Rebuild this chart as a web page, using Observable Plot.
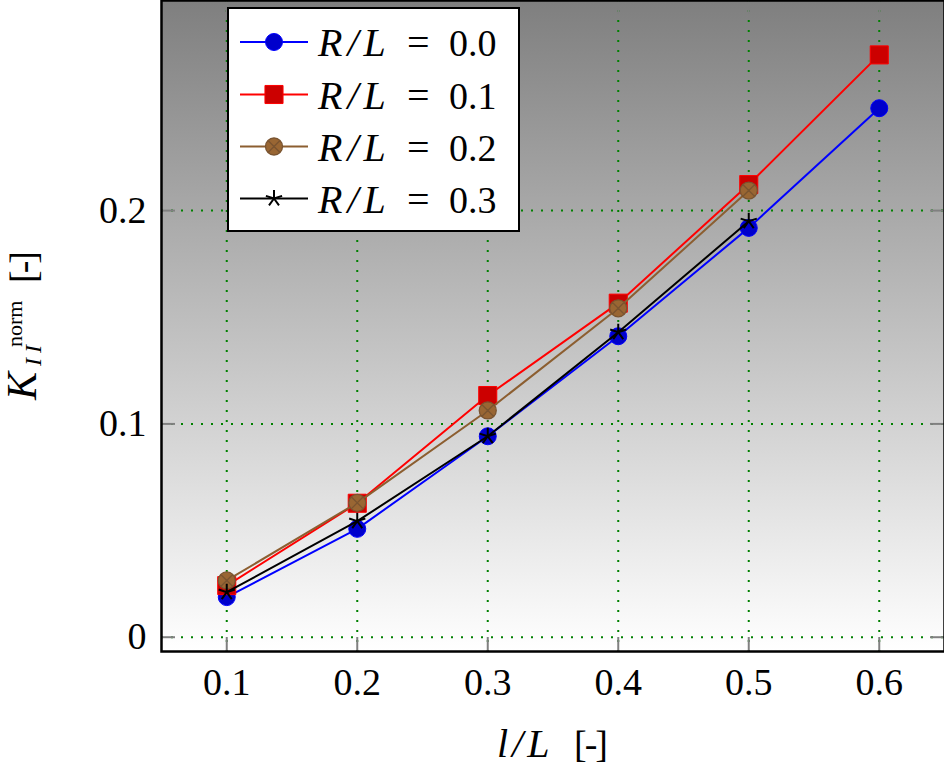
<!DOCTYPE html>
<html>
<head>
<meta charset="utf-8">
<script src="https://cdn.jsdelivr.net/npm/d3@7"></script>
<script src="https://cdn.jsdelivr.net/npm/@observablehq/plot@0.6"></script>
<style>
  html, body { margin: 0; padding: 0; background: #fff; }
  #wrap { position: relative; width: 944px; height: 766px; }
  #legend { position: absolute; left: 227px; top: 7px; }
</style>
</head>
<body>
<div id="wrap"></div>
<script>
// ---- data ----
const xValues = [0.1, 0.2, 0.3, 0.4, 0.5, 0.6];
const rl00 = [0.0188, 0.0508, 0.0942, 0.1411, 0.1919, 0.2480];
const rl01 = [0.0242, 0.0628, 0.1133, 0.1566, 0.2122, 0.2730];
const rl02 = [0.0266, 0.0630, 0.1063, 0.1542, 0.2094];
const rl03 = [0.0211, 0.0544, 0.0942, 0.1430, 0.1950];
const seriesNames = ["R/L = 0.0", "R/L = 0.1", "R/L = 0.2", "R/L = 0.3"];
const xTicks = [0.1, 0.2, 0.3, 0.4, 0.5, 0.6];
const yTicks = [0, 0.1, 0.2];
const yTickLabels = ["0", "0.1", "0.2"];

const FONT = "'Liberation Serif', 'DejaVu Serif', serif";

// custom symbols
const otimes = {
  draw(ctx, size) {
    const r = Math.sqrt(size / Math.PI);
    ctx.moveTo(r, 0);
    ctx.arc(0, 0, r, 0, 2 * Math.PI);
    const d = r * Math.SQRT1_2;
    ctx.moveTo(-d, -d); ctx.lineTo(d, d);
    ctx.moveTo(-d, d); ctx.lineTo(d, -d);
  }
};
const star5 = {
  draw(ctx, size) {
    const r = Math.sqrt(size / Math.PI);
    for (let i = 0; i < 5; i++) {
      const a = (-90 + 72 * i) * Math.PI / 180;
      ctx.moveTo(0, 0);
      ctx.lineTo(r * Math.cos(a), r * Math.sin(a));
    }
  }
};

const styles = [
  {line: "#0000ff", symbol: "circle", r: 8.5, fill: "#0000cc", stroke: "#0000ff", sw: 1},
  {line: "#ff0000", symbol: "square", r: 10.2, fill: "#cc0000", stroke: "#ff0000", sw: 1},
  {line: "#8c5e30", symbol: otimes, r: 8.5, fill: "#996633", stroke: "#7a5430", sw: 1.3},
  {line: "#000000", symbol: star5, r: 8.5, fill: "none", stroke: "#000000", sw: 2}
];

const allSeries = [rl00, rl01, rl02, rl03].map((vals, i) =>
  vals.map((v, j) => ({x: xValues[j], y: v, s: seriesNames[i]})));

const frameW = 944 - 161;
const frameH = 651;

const marks = [
  Plot.frame({fill: "url(#bgGrad)", stroke: "none"}),
  Plot.gridX(xTicks, {stroke: "#008000", strokeOpacity: 1, strokeWidth: 2, strokeDasharray: "2,8"}),
  Plot.gridY(yTicks, {stroke: "#008000", strokeOpacity: 1, strokeWidth: 2, strokeDasharray: "2,8"}),
  // inward ticks on all four sides
  Plot.tickX(xTicks, {x: d => d, stroke: "#808080", strokeWidth: 2, insetTop: frameH - 14}),
  Plot.tickX(xTicks, {x: d => d, stroke: "#808080", strokeWidth: 2, insetBottom: frameH - 14}),
  Plot.tickY(yTicks, {y: d => d, stroke: "#808080", strokeWidth: 2, insetRight: frameW - 14}),
  Plot.tickY(yTicks, {y: d => d, stroke: "#808080", strokeWidth: 2, insetLeft: frameW - 14}),
  Plot.axisX(xTicks, {tickSize: 0, tickPadding: 17, fontSize: 38, fill: "#000", tickFormat: d => d3.format(".1f")(d), label: null}),
  Plot.axisY(yTicks, {tickSize: 0, tickPadding: 15, fontSize: 38, fill: "#000", tickFormat: (d, i) => yTickLabels[i], label: null})
];

allSeries.forEach((data, i) => {
  const st = styles[i];
  marks.push(Plot.line(data, {x: "x", y: "y", stroke: st.line, strokeWidth: 2}));
  marks.push(Plot.dot(data, {x: "x", y: "y", symbol: st.symbol, r: st.r, fill: st.fill, stroke: st.stroke, strokeWidth: st.sw}));
});
marks.push(Plot.frame({stroke: "#000", strokeWidth: 2.5}));

const chart = Plot.plot({
  width: 944,
  height: 766,
  marginLeft: 161,
  marginRight: 0,
  marginTop: 0,
  marginBottom: 115,
  x: {domain: [0.05, 0.65], label: null},
  y: {domain: [-0.0067, 0.2985], label: null},
  style: {fontFamily: FONT, background: "#fff", color: "#000"},
  marks
});

// gradient definition for background
const svg = d3.select(chart);
const defs = svg.insert("defs", ":first-child");
const grad = defs.append("linearGradient").attr("id", "bgGrad")
  .attr("x1", 0).attr("y1", 0).attr("x2", 0).attr("y2", 1);
grad.append("stop").attr("offset", "0%").attr("stop-color", "#7f7f7f");
grad.append("stop").attr("offset", "100%").attr("stop-color", "#ffffff");

// x axis label
const xl = svg.append("text").attr("y", 757).attr("text-anchor", "start")
  .attr("font-family", FONT).attr("font-size", 40).attr("fill", "#000");
xl.append("tspan").attr("x", 497).attr("font-style", "italic").attr("letter-spacing", 4).text("l/L");
xl.append("tspan").attr("x", 574).attr("font-size", 38).attr("letter-spacing", -2).text("[-]");

// y axis label (rotated)
const yl = svg.append("text").attr("transform", "translate(36,328) rotate(-90)")
  .attr("text-anchor", "start").attr("font-family", FONT).attr("fill", "#000");
yl.append("tspan").attr("x", -72).attr("y", 0).attr("font-size", 42).attr("font-style", "italic").text("K");
yl.append("tspan").attr("x", -38).attr("y", 5).attr("font-size", 24).attr("font-style", "italic").attr("letter-spacing", 5).text("II");
yl.append("tspan").attr("x", -19).attr("y", -14).attr("font-size", 22).text("norm");
yl.append("tspan").attr("x", 45).attr("y", 0).attr("font-size", 38).attr("letter-spacing", -3).text("[-]");

document.getElementById("wrap").appendChild(chart);

// legend
const lw = 293, lh = 225;
const legend = d3.select("#wrap").append("div").attr("id", "legend")
  .append("svg").attr("width", lw).attr("height", lh);
legend.append("rect").attr("x", 1).attr("y", 1).attr("width", lw - 2).attr("height", lh - 2)
  .attr("fill", "#fff").attr("stroke", "#000").attr("stroke-width", 2);
const rowY = [35, 87.5, 139.5, 191.5];
seriesNames.forEach((name, i) => {
  const st = styles[i];
  const g = legend.append("g").attr("transform", `translate(0,${rowY[i]})`);
  g.append("line").attr("x1", 13).attr("x2", 81).attr("y1", 0).attr("y2", 0)
    .attr("stroke", st.line).attr("stroke-width", 2);
  const sym = typeof st.symbol === "string"
    ? (st.symbol === "circle" ? d3.symbolCircle : d3.symbolSquare)
    : st.symbol;
  g.append("path").attr("transform", "translate(47,0)")
    .attr("d", d3.symbol(sym, Math.PI * st.r * st.r)())
    .attr("fill", st.fill).attr("stroke", st.stroke).attr("stroke-width", st.sw);
  const t = g.append("text").attr("y", 14)
    .attr("font-family", FONT).attr("font-size", 40).attr("fill", "#000");
  const parts = name.split(" = ");
  t.append("tspan").attr("x", 91).attr("font-style", "italic").attr("letter-spacing", 5).text(parts[0]);
  t.append("tspan").attr("x", 180).text("=");
  t.append("tspan").attr("x", 222).attr("font-size", 38).text(parts[1]);
});
</script>
</body>
</html>
